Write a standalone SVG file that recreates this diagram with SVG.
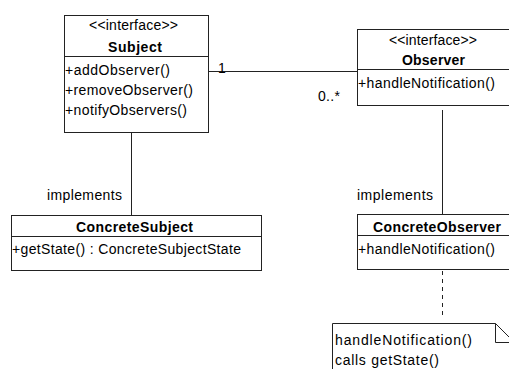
<svg xmlns="http://www.w3.org/2000/svg" width="509" height="369" viewBox="0 0 509 369">
<style>
.box{fill:#fff;stroke:#222;stroke-width:1}
.ln{stroke:#222;stroke-width:1;fill:none}
.dash{stroke:#222;stroke-width:1;fill:none;stroke-dasharray:4 4}
text{font-family:"Liberation Sans",Arial,sans-serif;font-size:14px;fill:#000}
.b{font-weight:bold}
</style>
<rect width="509" height="369" fill="#fff"/>
<g id="connectors">
<line class="ln" x1="208" y1="71.5" x2="357" y2="71.5"/>
<line class="ln" x1="131.5" y1="132" x2="131.5" y2="215"/>
<line class="ln" x1="442.5" y1="110" x2="442.5" y2="214"/>
<line class="dash" x1="442.5" y1="271" x2="442.5" y2="319"/>
<text x="218" y="73" textLength="7">1</text>
<text x="318" y="101" textLength="22">0..*</text>
<text x="47" y="200" textLength="75" lengthAdjust="spacing">implements</text>
<text x="357" y="200" textLength="76" lengthAdjust="spacing">implements</text>
</g>
<g id="Subject">
<rect class="box" x="64.5" y="15.5" width="144" height="117"/>
<line class="ln" x1="64.5" y1="56.5" x2="208.5" y2="56.5"/>
<text x="89" y="30" textLength="89" lengthAdjust="spacing">&lt;&lt;interface&gt;&gt;</text>
<text class="b" x="108" y="52" textLength="54" lengthAdjust="spacing">Subject</text>
<text x="65" y="75" textLength="105" lengthAdjust="spacing">+addObserver()</text>
<text x="65" y="95" textLength="128" lengthAdjust="spacing">+removeObserver()</text>
<text x="65" y="115" textLength="122" lengthAdjust="spacing">+notifyObservers()</text>
</g>
<g id="Observer">
<rect class="box" x="357.5" y="29.5" width="170" height="76"/>
<line class="ln" x1="357.5" y1="69.5" x2="527.5" y2="69.5"/>
<text x="389" y="45" textLength="88" lengthAdjust="spacing">&lt;&lt;interface&gt;&gt;</text>
<text class="b" x="402" y="65" textLength="63" lengthAdjust="spacing">Observer</text>
<text x="358" y="88" textLength="137" lengthAdjust="spacing">+handleNotification()</text>
</g>
<g id="ConcreteSubject">
<rect class="box" x="11.5" y="215.5" width="250" height="55"/>
<line class="ln" x1="11.5" y1="236.5" x2="261.5" y2="236.5"/>
<text class="b" x="76" y="232" textLength="117" lengthAdjust="spacing">ConcreteSubject</text>
<text x="12" y="254" textLength="229" lengthAdjust="spacing">+getState() : ConcreteSubjectState</text>
</g>
<g id="ConcreteObserver">
<rect class="box" x="357.5" y="214.5" width="170" height="55"/>
<line class="ln" x1="357.5" y1="235.5" x2="527.5" y2="235.5"/>
<text class="b" x="373" y="232" textLength="128" lengthAdjust="spacing">ConcreteObserver</text>
<text x="358" y="254" textLength="137" lengthAdjust="spacing">+handleNotification()</text>
</g>
<g id="Note">
<path class="box" d="M332.5 380 V323.5 H495.5 L515 343 V380 Z"/>
<path class="ln" d="M495.5 323.5 V342.5 H515"/>
<text x="335" y="345" textLength="137" lengthAdjust="spacing">handleNotification()</text>
<text x="335" y="365" textLength="104" lengthAdjust="spacing">calls getState()</text>
</g>
</svg>
